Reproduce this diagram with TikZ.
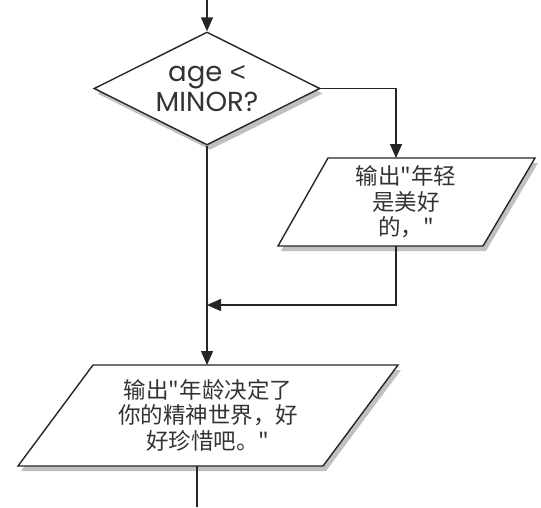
\documentclass[tikz,border=0pt]{standalone}
\usepackage{fontspec}
\setmainfont{Poppins}
\newfontfamily\cjk{Noto Sans CJK SC}
\newfontfamily\symfont{Liberation Sans}
\usetikzlibrary{shapes.geometric,arrows.meta,shadows}
\begin{document}
\begin{tikzpicture}[x=1pt,y=-1pt,
  ln/.style={line width=1.4pt, draw=black!85},
  arr/.style={ln, -{Triangle[length=14pt,width=12pt]}},
  shd/.style={drop shadow={shadow xshift=3pt, shadow yshift=-5pt, opacity=0.35, fill=black!70}},
  decbox/.style={diamond, ln, fill=white, shd, inner sep=0pt, minimum width=226pt, minimum height=113pt, aspect=2,
     font=\fontsize{27.5}{30}\selectfont, text=black!80, align=center},
  iotext/.style={font=\cjk\fontsize{22.5}{25.5}\selectfont, text=black!80, align=center, inner sep=0pt}
]
\useasboundingbox (0,0) rectangle (541,507);
\fill[white] (0,0) rectangle (541,507);

\node[decbox] (dec) at (207,88.5) {age {\symfont<}\\MINOR?};

% parallelogram 1
\coordinate (p1tl) at (328,158);
\coordinate (p1tr) at (535,158);
\coordinate (p1br) at (483,246);
\coordinate (p1bl) at (278,246);
\path[ln, fill=white, shd] (p1tl) -- (p1tr) -- (p1br) -- (p1bl) -- cycle;
\node[iotext] (p1) at (406,202) {输出"年轻\\是美好\\的，"};

% parallelogram 2
\coordinate (p2tl) at (93,365);
\coordinate (p2tr) at (398,365);
\coordinate (p2br) at (323,466);
\coordinate (p2bl) at (18,466);
\path[ln, fill=white, shd] (p2tl) -- (p2tr) -- (p2br) -- (p2bl) -- cycle;
\node[iotext] (p2) at (208,415) {输出"年龄决定了\\你的精神世界，好\\好珍惜吧。"};

\coordinate (start) at (207,0);
\coordinate (p1in) at (396,158);
\coordinate (p1out) at (396,246);
\coordinate (merge) at (207,305);
\coordinate (p2in) at (207,365);
\coordinate (p2out) at (197,466);
\coordinate (endpt) at (197,507);

\draw[arr] (start) -- (dec.north);
\draw[arr] (dec.east) -| (p1in);
\draw[arr] (p1out) |- (merge);
\draw[arr] (dec.south) -- (p2in);
\draw[ln] (p2out) -- (endpt);
\end{tikzpicture}
\end{document}
